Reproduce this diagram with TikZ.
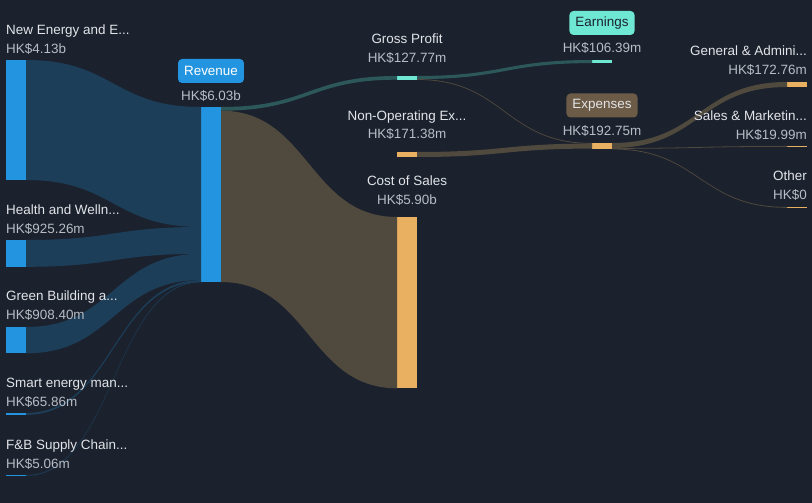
\documentclass[tikz,border=0pt]{standalone}
\usepackage{fontspec}
\setmainfont{Liberation Sans}
\usepackage{tikz}
\usetikzlibrary{calc}

\definecolor{bgdark}{RGB}{27,34,46}
\definecolor{barblue}{RGB}{35,148,223}
\definecolor{flowblue}{RGB}{28,62,89}
\definecolor{barorange}{RGB}{232,176,96}
\definecolor{flowbrown}{RGB}{80,73,61}
\definecolor{barteal}{RGB}{110,231,211}
\definecolor{flowteal}{RGB}{44,88,90}
\definecolor{pillbrown}{RGB}{108,91,70}
\definecolor{txtname}{RGB}{226,228,232}
\definecolor{txtval}{RGB}{184,188,196}

\tikzset{
  bar/.style={fill=#1, inner sep=0pt, outer sep=0pt, minimum width=20bp, anchor=north west},
  lbl/.style={text=txtname, inner sep=0pt, font=\fontsize{13.5}{16}\selectfont},
  val/.style={text=txtval, inner sep=0pt, font=\fontsize{13.5}{16}\selectfont},
  pill/.style={fill=#1, rounded corners=4bp, inner xsep=6bp, inner ysep=0pt,
    minimum height=24bp, font=\fontsize{13.5}{16}\selectfont}
}

% band from the right side of one bar to the left side of another
\newcommand{\band}[6]{%
  \fill[#6] let \p1=($(#1.north east)+(0,#3)$), \p2=($(#2.north west)+(0,#4)$),
    \p3=($(#1.north east)+(0,#3+#5)$), \p4=($(#2.north west)+(0,#4+#5)$),
    \p5=($(\p1)!0.5!(\p2)$) in
    (\p1) .. controls (\x5,\y1) and (\x5,\y2) .. (\p2) -- (\p4)
    .. controls (\x5,\y4) and (\x5,\y3) .. (\p3) -- cycle;}

\begin{document}
\begin{tikzpicture}[x=1bp,y=-1bp]
\useasboundingbox (0,0) rectangle (812,503);
\fill[bgdark] (0,0) rectangle (812,503);

%Bars: segments
\node[bar=barblue, minimum height=120bp] (ne) at (6,60) {};
\node[bar=barblue, minimum height=26.8bp] (hw) at (6,240) {};
\node[bar=barblue, minimum height=26.3bp] (gb) at (6,327) {};
\node[bar=barblue, minimum height=1.9bp] (se) at (6,413) {};
\node[bar=barblue, minimum height=1bp] (fb) at (6,475) {};
%Bars: middle
\node[bar=barblue, minimum height=175bp] (rev) at (201,107) {};
\node[bar=barteal, minimum height=3.7bp] (gp) at (397,76) {};
\node[bar=barorange, minimum height=5bp] (nonop) at (397,152) {};
\node[bar=barorange, minimum height=171bp] (cos) at (397,217) {};
\node[bar=barteal, minimum height=3.1bp] (earn) at (592,60) {};
\node[bar=barorange, minimum height=5.6bp] (exp) at (592,143) {};
%Bars: right
\node[bar=barorange, minimum height=5bp] (ga) at (787,82) {};
\node[bar=barorange, minimum height=1bp] (sm) at (787,146) {};
\node[bar=barorange, minimum height=1bp] (oth) at (787,207) {};

%Bands into revenue
\band{ne}{rev}{0}{0}{120}{flowblue}
\band{hw}{rev}{0}{120}{26.8}{flowblue}
\band{gb}{rev}{0}{146.8}{26.3}{flowblue}
\band{se}{rev}{0}{173.1}{1.9}{flowblue}
\band{fb}{rev}{0}{174.6}{0.8}{flowblue}
%Bands out of revenue
\band{rev}{gp}{0}{0}{3.7}{flowteal}
\band{rev}{cos}{3.7}{0}{171.3}{flowbrown}
\band{gp}{earn}{0}{0}{3.1}{flowteal}
\band{gp}{exp}{3.1}{0}{0.8}{flowbrown}
\band{nonop}{exp}{0}{0.6}{5}{flowbrown}
%Bands out of expenses
\band{exp}{ga}{0}{0}{5}{flowbrown}
\band{exp}{sm}{5}{0}{0.8}{flowbrown}
\band{exp}{oth}{5.6}{0}{0.8}{flowbrown}

% Text Nodes: left
\node[lbl, anchor=base west] (nename) at (6,34.3) {New Energy and E...};
\node[val, anchor=base west] (neval) at (6,53.3) {HK\$4.13b};
\node[lbl, anchor=base west] (hwname) at (6,214.3) {Health and Welln...};
\node[val, anchor=base west] (hwval) at (6,233.3) {HK\$925.26m};
\node[lbl, anchor=base west] (gbname) at (6,301) {Green Building a...};
\node[val, anchor=base west] (gbval) at (6,320) {HK\$908.40m};
\node[lbl, anchor=base west] (sename) at (6,387.7) {Smart energy man...};
\node[val, anchor=base west] (seval) at (6,406.7) {HK\$65.86m};
\node[lbl, anchor=base west] (fbname) at (6,449.3) {F\&B Supply Chain...};
\node[val, anchor=base west] (fbval) at (6,468.3) {HK\$5.06m};

% Text Nodes: middle
\node[pill=barblue, text=white] (revname) at (211,71) {Revenue};
\node[val, anchor=base] (revval) at (211,100.5) {HK\$6.03b};
\node[lbl, anchor=base] (gpname) at (407,43.3) {Gross Profit};
\node[val, anchor=base] (gpval) at (407,62.3) {HK\$127.77m};
\node[lbl, anchor=base] (nonopname) at (407,120.7) {Non-Operating Ex...};
\node[val, anchor=base] (nonopval) at (407,139) {HK\$171.38m};
\node[lbl, anchor=base] (cosname) at (407,185.3) {Cost of Sales};
\node[val, anchor=base] (cosval) at (407,204.3) {HK\$5.90b};
\node[pill=barteal, text=bgdark] (earnname) at (602,23) {Earnings};
\node[val, anchor=base] (earnval) at (602,52.3) {HK\$106.39m};
\node[pill=pillbrown, text=txtname] (expname) at (602,105.5) {Expenses};
\node[val, anchor=base] (expval) at (602,136) {HK\$192.75m};

% Text Nodes: right
\node[lbl, anchor=base east] (ganame) at (807,55.7) {General \& Admini...};
\node[val, anchor=base east] (gaval) at (807,75) {HK\$172.76m};
\node[lbl, anchor=base east] (smname) at (807,120.3) {Sales \& Marketin...};
\node[val, anchor=base east] (smval) at (807,140) {HK\$19.99m};
\node[lbl, anchor=base east] (othname) at (807,181) {Other};
\node[val, anchor=base east] (othval) at (807,200) {HK\$0};

\end{tikzpicture}
\end{document}
